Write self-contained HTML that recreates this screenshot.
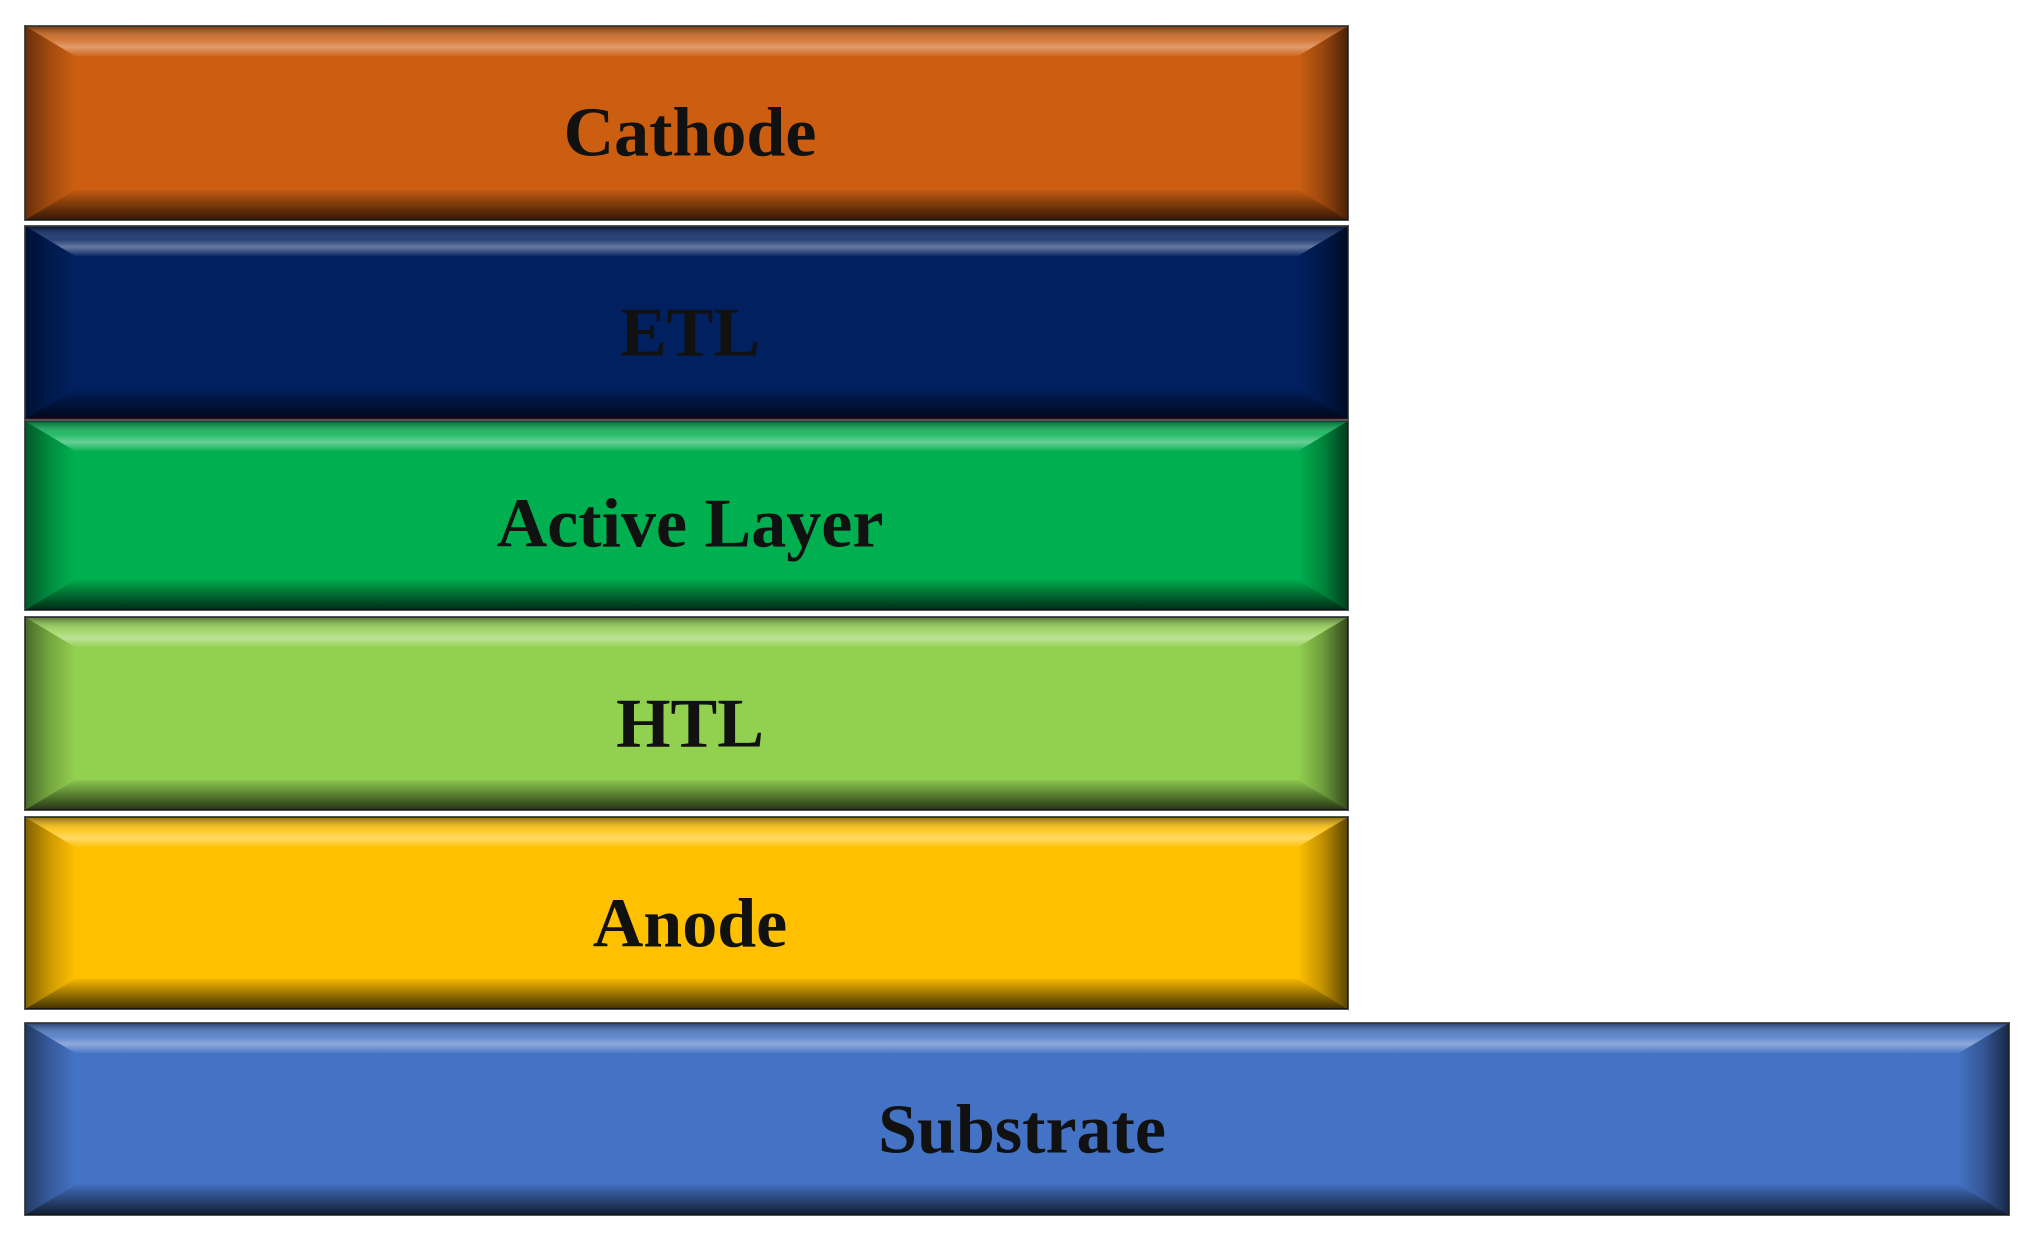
<!DOCTYPE html>
<html><head><meta charset="utf-8"><style>
html,body{margin:0;padding:0;background:#fff;}
svg{display:block}
text{font-family:"Liberation Serif",serif;font-weight:bold;font-size:70px;fill:#111;text-anchor:middle;dominant-baseline:central}
</style></head><body>
<svg width="2032" height="1245" viewBox="0 0 2032 1245" xmlns="http://www.w3.org/2000/svg">
<defs>
<linearGradient id="gt" x1="0" y1="0" x2="0" y2="1">
<stop offset="0" stop-color="#000" stop-opacity="0.45"/>
<stop offset="0.45" stop-color="#fff" stop-opacity="0.15"/>
<stop offset="0.7" stop-color="#fff" stop-opacity="0.4"/>
<stop offset="1" stop-color="#fff" stop-opacity="0.05"/>
</linearGradient>
<linearGradient id="gb" x1="0" y1="0" x2="0" y2="1">
<stop offset="0" stop-color="#000" stop-opacity="0.05"/>
<stop offset="1" stop-color="#000" stop-opacity="0.75"/>
</linearGradient>
<linearGradient id="gl" x1="0" y1="0" x2="1" y2="0">
<stop offset="0" stop-color="#000" stop-opacity="0.5"/>
<stop offset="0.5" stop-color="#000" stop-opacity="0.2"/>
<stop offset="1" stop-color="#000" stop-opacity="0"/>
</linearGradient>
<linearGradient id="gr" x1="0" y1="0" x2="1" y2="0">
<stop offset="0" stop-color="#000" stop-opacity="0"/>
<stop offset="0.5" stop-color="#000" stop-opacity="0.25"/>
<stop offset="1" stop-color="#000" stop-opacity="0.65"/>
</linearGradient>
</defs>

<!-- Cathode -->
<g>
<rect x="25" y="26" width="1323" height="194" fill="#CC5E12" stroke="#555" stroke-width="2"/>
<polygon points="25,26 1348,26 1298,56 75,56" fill="url(#gt)"/>
<polygon points="75,190 1298,190 1348,220 25,220" fill="url(#gb)"/>
<polygon points="25,26 75,56 75,190 25,220" fill="url(#gl)"/>
<polygon points="1348,26 1348,220 1298,190 1298,56" fill="url(#gr)"/>
<text x="690" y="133">Cathode</text>
</g>
<!-- ETL -->
<g>
<rect x="25" y="226" width="1323" height="193" fill="#002060" stroke="#555" stroke-width="2"/>
<polygon points="25,226 1348,226 1298,256 75,256" fill="url(#gt)"/>
<polygon points="75,389 1298,389 1348,419 25,419" fill="url(#gb)"/>
<polygon points="25,226 75,256 75,389 25,419" fill="url(#gl)"/>
<polygon points="1348,226 1348,419 1298,389 1298,256" fill="url(#gr)"/>
<text x="690" y="333">ETL</text>
</g>
<!-- Active -->
<g>
<rect x="25" y="421" width="1323" height="189" fill="#00B050" stroke="#555" stroke-width="2"/>
<polygon points="25,421 1348,421 1298,451 75,451" fill="url(#gt)"/>
<polygon points="75,580 1298,580 1348,610 25,610" fill="url(#gb)"/>
<polygon points="25,421 75,451 75,580 25,610" fill="url(#gl)"/>
<polygon points="1348,421 1348,610 1298,580 1298,451" fill="url(#gr)"/>
<text x="690" y="524">Active Layer</text>
</g>
<!-- HTL -->
<g>
<rect x="25" y="617" width="1323" height="193" fill="#92D050" stroke="#555" stroke-width="2"/>
<polygon points="25,617 1348,617 1298,647 75,647" fill="url(#gt)"/>
<polygon points="75,780 1298,780 1348,810 25,810" fill="url(#gb)"/>
<polygon points="25,617 75,647 75,780 25,810" fill="url(#gl)"/>
<polygon points="1348,617 1348,810 1298,780 1298,647" fill="url(#gr)"/>
<text x="690" y="724">HTL</text>
</g>
<!-- Anode -->
<g>
<rect x="25" y="817" width="1323" height="192" fill="#FFC000" stroke="#555" stroke-width="2"/>
<polygon points="25,817 1348,817 1298,847 75,847" fill="url(#gt)"/>
<polygon points="75,979 1298,979 1348,1009 25,1009" fill="url(#gb)"/>
<polygon points="25,817 75,847 75,979 25,1009" fill="url(#gl)"/>
<polygon points="1348,817 1348,1009 1298,979 1298,847" fill="url(#gr)"/>
<text x="690" y="924">Anode</text>
</g>
<!-- Substrate -->
<g>
<rect x="25" y="1023" width="1984" height="192" fill="#4472C4" stroke="#555" stroke-width="2"/>
<polygon points="25,1023 2009,1023 1959,1053 75,1053" fill="url(#gt)"/>
<polygon points="75,1185 1959,1185 2009,1215 25,1215" fill="url(#gb)"/>
<polygon points="25,1023 75,1053 75,1185 25,1215" fill="url(#gl)"/>
<polygon points="2009,1023 2009,1215 1959,1185 1959,1053" fill="url(#gr)"/>
<text x="1022" y="1130">Substrate</text>
</g>
</svg>
</body></html>
